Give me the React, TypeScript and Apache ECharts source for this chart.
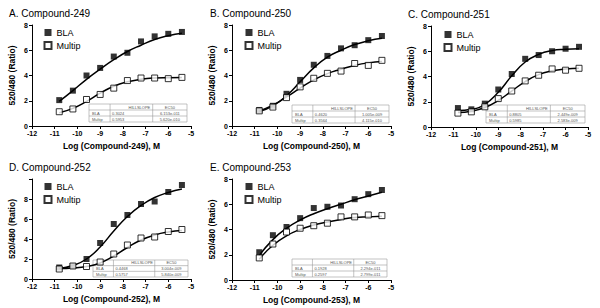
import React, { useEffect, useRef } from 'react';
import * as echarts from 'echarts';

// ---- data ----
const logConc = [-10.8, -10.2, -9.6, -9.0, -8.4, -7.8, -7.2, -6.6, -6.0, -5.4];
const xTickMin = -12;
const xTickMax = -5;

const titles = ['A. Compound-249', 'B. Compound-250', 'C. Compound-251', 'D. Compound-252', 'E. Compound-253'];
const xNames = ['Log (Compound-249), M', 'Log (Compound-250), M', 'Log (Compound-251), M', 'Log (Compound-252), M', 'Log (Compound-253), M'];
const yName = '520/480 (Ratio)';
const yMaxes = [8, 8, 8, 10, 8];

const bla249 = [2.05, 2.8, 4.0, 4.6, 5.5, 5.8, 6.7, 7.1, 7.3, 7.45];
const multip249 = [1.13, 1.35, 2.1, 2.5, 3.0, 3.6, 3.8, 3.8, 3.75, 3.85];
const blaFit249 = [1.95, 2.8, 3.7, 4.5, 5.25, 5.9, 6.4, 6.85, 7.15, 7.35];
const multipFit249 = [1.05, 1.4, 1.95, 2.6, 3.15, 3.5, 3.7, 3.8, 3.83, 3.85];

const bla250 = [1.27, 1.6, 2.55, 3.65, 4.85, 5.55, 6.15, 6.4, 6.8, 7.13];
const multip250 = [1.2, 1.5, 2.25, 3.1, 3.78, 4.17, 4.35, 4.95, 4.8, 5.2];
const blaFit250 = [1.15, 1.6, 2.4, 3.5, 4.6, 5.45, 6.0, 6.45, 6.75, 6.95];
const multipFit250 = [1.2, 1.65, 2.3, 3.0, 3.65, 4.15, 4.5, 4.8, 5.0, 5.1];

const bla251 = [1.5, 1.4, 1.85, 2.97, 4.2, 5.4, 5.7, 6.0, 6.2, 6.35];
const multip251 = [1.1, 1.2, 1.6, 2.25, 2.85, 3.65, 4.1, 4.6, 4.5, 4.65];
const blaFit251 = [1.3, 1.4, 1.8, 2.75, 4.05, 5.15, 5.75, 6.05, 6.15, 6.2];
const multipFit251 = [1.15, 1.25, 1.55, 2.1, 2.85, 3.6, 4.15, 4.45, 4.6, 4.65];

const bla252 = [1.15, 1.3, 2.0, 3.6, 5.5, 6.4, 7.5, 7.75, 8.7, 9.4];
const multip252 = [1.0, 1.3, 1.25, 1.7, 2.5, 3.4, 4.1, 4.2, 4.75, 4.95];
const blaFit252 = [1.05, 1.35, 2.0, 3.2, 4.8, 6.25, 7.35, 8.15, 8.65, 9.0];
const multipFit252 = [1.05, 1.1, 1.25, 1.6, 2.3, 3.15, 3.9, 4.4, 4.7, 4.85];

const bla253 = [2.2, 3.55, 4.2, 4.9, 5.7, 5.8, 5.9, 6.4, 6.8, 7.13];
const multip253 = [1.75, 2.85, 3.8, 4.1, 4.3, 4.5, 5.0, 5.0, 5.15, 5.1];
const blaFit253 = [1.95, 3.2, 4.1, 4.75, 5.25, 5.65, 6.0, 6.35, 6.65, 6.95];
const multipFit253 = [1.65, 2.75, 3.5, 4.0, 4.35, 4.6, 4.8, 4.95, 5.0, 5.05];

const tableHeader = ['', 'HILLSLOPE', 'EC50'];
const hillBLA = ['0.3024', '0.4620', '0.8805', '0.4468', '0.1928'];
const hillMultip = ['0.5953', '0.3564', '0.5985', '0.5757', '0.2597'];
const ec50BLA = ['6.153e-011', '1.005e-009', '2.449e-009', '3.004e-009', '2.294e-011'];
const ec50Multip = ['5.620e-010', '4.115e-010', '2.583e-009', '5.840e-009', '2.799e-011'];

const blaSets = [bla249, bla250, bla251, bla252, bla253];
const multipSets = [multip249, multip250, multip251, multip252, multip253];
const blaFits = [blaFit249, blaFit250, blaFit251, blaFit252, blaFit253];
const multipFits = [multipFit249, multipFit250, multipFit251, multipFit252, multipFit253];

// ---- layout (positions only) ----
const layout = [
  { left: 32, top: 25, width: 159, height: 101, tx: 9, ty: 8, lx: 43.5, ly: 28, table: [89, 104, 98, 18] },
  { left: 232, top: 25, width: 159, height: 101, tx: 210, ty: 8, lx: 244.5, ly: 28, table: [292, 105, 97, 18] },
  { left: 431, top: 26, width: 157, height: 101, tx: 408, ty: 9, lx: 443.5, ly: 30, table: [486, 105, 99, 18] },
  { left: 32, top: 179, width: 159, height: 100, tx: 9, ty: 162, lx: 43.5, ly: 182, table: [93, 260, 95, 17] },
  { left: 232, top: 179, width: 159, height: 101, tx: 210, ty: 162, lx: 244.5, ly: 182, table: [292, 259, 95, 18] },
];

const FONT = 'Liberation Sans, Arial, sans-serif';

function pairs(ys: number[]) {
  return logConc.map((x, i) => [x, ys[i]]);
}

function tableGraphic(i: number) {
  const [x0, y0, w, h] = layout[i].table;
  const rh = h / 3;
  const c1 = w * 0.215;
  const c2 = w * 0.65;
  const stroke = { stroke: '#9a9a9a', lineWidth: 0.6 };
  const txt = (x: number, y: number, text: string, align: string) => ({
    type: 'text',
    x,
    y,
    style: { text, fill: '#555', font: `4px ${FONT}`, textAlign: align, textVerticalAlign: 'middle' },
    silent: true,
  });
  const rows = [
    [tableHeader[0], tableHeader[1], tableHeader[2]],
    ['BLA', hillBLA[i], ec50BLA[i]],
    ['Multip', hillMultip[i], ec50Multip[i]],
  ];
  const children: any[] = [
    { type: 'rect', shape: { x: 0, y: 0, width: w, height: h }, style: { fill: '#fff', ...stroke }, silent: true },
    { type: 'line', shape: { x1: 0, y1: rh, x2: w, y2: rh }, style: stroke, silent: true },
    { type: 'line', shape: { x1: 0, y1: 2 * rh, x2: w, y2: 2 * rh }, style: stroke, silent: true },
    { type: 'line', shape: { x1: c1, y1: 0, x2: c1, y2: h }, style: stroke, silent: true },
    { type: 'line', shape: { x1: c2, y1: 0, x2: c2, y2: h }, style: stroke, silent: true },
  ];
  rows.forEach((r, ri) => {
    const cy = rh * ri + rh / 2;
    if (ri === 0) {
      children.push(txt((c1 + c2) / 2 + 8, cy, r[1], 'center'));
      children.push(txt((c2 + w) / 2, cy, r[2], 'center'));
    } else {
      children.push(txt(3, cy, r[0], 'left'));
      children.push(txt(c1 + 2, cy, r[1], 'left'));
      children.push(txt((c2 + w) / 2, cy, r[2], 'center'));
    }
  });
  return { type: 'group', x: x0, y: y0, z: 1, children };
}

export default function App() {
  const ref = useRef<HTMLDivElement>(null);

  useEffect(() => {
    if (!ref.current) return;
    const chart = echarts.init(ref.current, undefined, { renderer: 'svg' });

    const axisLine = { show: true, lineStyle: { color: '#000', width: 1 } };
    const axisTick = { show: true, inside: false, length: 3, lineStyle: { color: '#000', width: 1 } };
    const axisLabel = { color: '#000', fontSize: 7, fontWeight: 'bold', fontFamily: FONT, margin: 4 };

    const grid = layout.map((l) => ({ left: l.left, top: l.top, width: l.width, height: l.height, containLabel: false }));
    const xAxis = layout.map((_, i) => ({
      type: 'value',
      gridIndex: i,
      min: xTickMin,
      max: xTickMax,
      interval: 1,
      name: xNames[i],
      nameLocation: 'middle',
      nameGap: 15,
      nameTextStyle: { color: '#000', fontSize: 8.5, fontWeight: 'bold', fontFamily: FONT },
      axisLine,
      axisTick,
      axisLabel,
      splitLine: { show: false },
    }));
    const yAxis = layout.map((_, i) => ({
      type: 'value',
      gridIndex: i,
      min: 0,
      max: yMaxes[i],
      interval: 2,
      name: yName,
      nameLocation: 'middle',
      nameGap: 15.5,
      nameTextStyle: { color: '#000', fontSize: 8.5, fontWeight: 'bold', fontFamily: FONT },
      axisLine,
      axisTick,
      axisLabel: { ...axisLabel, formatter: (v: number) => (v > 8 ? '' : String(v)) },
      splitLine: { show: false },
    }));

    const series: any[] = [];
    layout.forEach((_, i) => {
      series.push({
        type: 'line',
        name: 'BLA fit',
        xAxisIndex: i,
        yAxisIndex: i,
        data: pairs(blaFits[i]),
        smooth: 0.5,
        symbol: 'none',
        lineStyle: { color: '#000', width: 1.5 },
        z: 2,
        silent: true,
      });
      series.push({
        type: 'line',
        name: 'Multip fit',
        xAxisIndex: i,
        yAxisIndex: i,
        data: pairs(multipFits[i]),
        smooth: 0.5,
        symbol: 'none',
        lineStyle: { color: '#000', width: 1.5 },
        z: 2,
        silent: true,
      });
      series.push({
        type: 'scatter',
        name: 'BLA',
        xAxisIndex: i,
        yAxisIndex: i,
        data: pairs(blaSets[i]),
        symbol: 'rect',
        symbolSize: 6,
        itemStyle: { color: '#000' },
        z: 3,
      });
      series.push({
        type: 'scatter',
        name: 'Multip',
        xAxisIndex: i,
        yAxisIndex: i,
        data: pairs(multipSets[i]),
        symbol: 'rect',
        symbolSize: 6,
        itemStyle: { color: '#fff', borderColor: '#000', borderWidth: 1 },
        z: 4,
      });
    });

    const legend = layout.map((l) => ({
      left: l.lx,
      top: l.ly,
      orient: 'vertical',
      padding: 0,
      itemWidth: 7,
      itemHeight: 7,
      itemGap: 4,
      selectedMode: false,
      data: [
        { name: 'BLA', icon: 'rect' },
        { name: 'Multip', icon: 'rect' },
      ],
      textStyle: { color: '#000', fontSize: 9, fontFamily: FONT, lineHeight: 9 },
    }));

    const title = layout.map((l, i) => ({
      text: titles[i],
      left: l.tx,
      top: l.ty,
      padding: 0,
      textStyle: { color: '#000', fontSize: 10, fontWeight: 'normal', fontFamily: FONT },
    }));

    chart.setOption({
      animation: false,
      backgroundColor: '#fff',
      title,
      legend,
      grid,
      xAxis,
      yAxis,
      series,
      graphic: layout.map((_, i) => tableGraphic(i)),
    });

    return () => chart.dispose();
  }, []);

  return <div ref={ref} style={{ position: 'absolute', left: 0, top: 0, width: 600, height: 308 }} />;
}
